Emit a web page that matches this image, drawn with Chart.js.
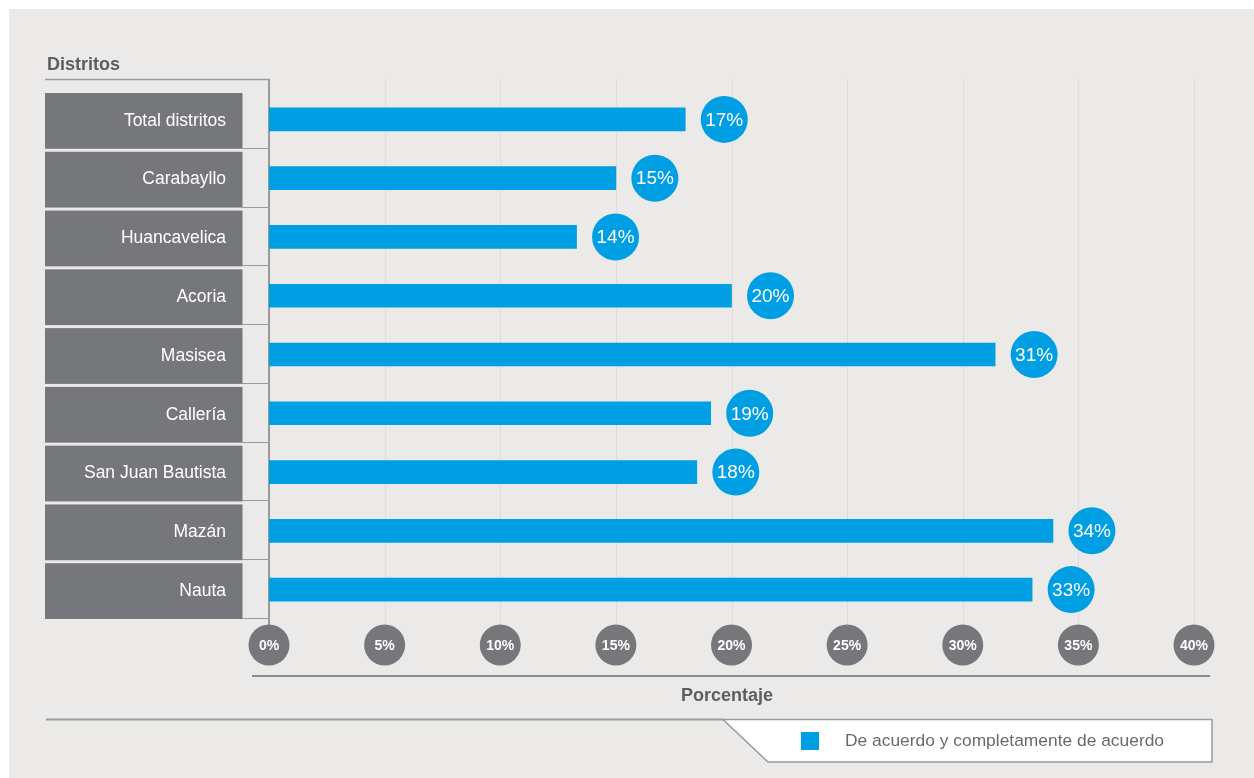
<!DOCTYPE html>
<html><head><meta charset="utf-8">
<script src="https://cdn.jsdelivr.net/npm/chart.js@4/dist/chart.umd.min.js"></script>
<style>html,body{margin:0;padding:0;background:#fff}canvas{display:block}</style>
</head><body>
<canvas id="c" width="1254" height="778"></canvas>
<script>
const categories = ['Total distritos','Carabayllo','Huancavelica','Acoria','Masisea','Callería','San Juan Bautista','Mazán','Nauta'];
const barValues = [18.0, 15.0, 13.3, 20.0, 31.4, 19.1, 18.5, 33.9, 33.0];
const valueLabels = ['17%','15%','14%','20%','31%','19%','18%','34%','33%'];
const tickLabels = ['0%','5%','10%','15%','20%','25%','30%','35%','40%'];
const seriesName = 'De acuerdo y completamente de acuerdo';
const yAxisTitle = 'Distritos';
const xAxisTitle = 'Porcentaje';

const FONT = '"Liberation Sans", Arial, Helvetica, sans-serif';
const BLUE = '#009FE3';
const DARK = '#76777B';
const BG = '#EBEAE8';

const deco = {
  id: 'deco',
  beforeDraw(chart) {
    const c = chart.ctx;
    c.save();
    c.fillStyle = '#fff';
    c.fillRect(0, 0, chart.width, chart.height);
    c.fillStyle = BG;
    c.fillRect(9, 9, chart.width - 9, chart.height - 9);
    c.restore();
  },
  beforeDatasetsDraw(chart) {
    const c = chart.ctx, x = chart.scales.x, y = chart.scales.y, a = chart.chartArea;
    const pitch = (a.bottom - a.top) / categories.length;
    c.save();
    // grid lines
    x.ticks.forEach((t, i) => {
      const px = Math.round(x.getPixelForValue(t.value)) + 0.5;
      if (i === 0) return;
      c.strokeStyle = '#DEDDDB';
      c.lineWidth = 1;
      c.beginPath(); c.moveTo(px, 79); c.lineTo(px, 625); c.stroke();
    });
    // category boxes
    categories.forEach((cat, i) => {
      const cy = y.getPixelForValue(i);
      const top = cy - pitch / 2, bot = cy + pitch / 2;
      c.fillStyle = DARK;
      c.fillRect(45, top + 3, 197.5, bot - top - 3);
      c.strokeStyle = '#9A9A9A';
      c.lineWidth = 1;
      c.beginPath(); c.moveTo(242, Math.round(bot) - 0.5); c.lineTo(269, Math.round(bot) - 0.5); c.stroke();
      c.fillStyle = '#FFFFFF';
      c.font = '17.5px ' + FONT;
      c.textAlign = 'right';
      c.textBaseline = 'middle';
      c.fillText(cat, 226, cy + 1.5);
    });
    // top line
    c.strokeStyle = '#9A9A9A';
    c.lineWidth = 1.5;
    c.beginPath(); c.moveTo(45, 79.5); c.lineTo(269, 79.5); c.stroke();
    // zero axis
    const x0 = x.getPixelForValue(0);
    c.lineWidth = 2;
    c.beginPath(); c.moveTo(x0, 79); c.lineTo(x0, 626); c.stroke();
    c.restore();
  },
  afterDatasetsDraw(chart) {
    const c = chart.ctx, x = chart.scales.x;
    c.save();
    // value badges
    chart.getDatasetMeta(0).data.forEach((bar, i) => {
      const cx = bar.x + 39, cy = bar.y;
      c.fillStyle = BLUE;
      c.beginPath(); c.arc(cx, cy, 23.5, 0, Math.PI * 2); c.fill();
      c.fillStyle = '#fff';
      c.font = '19px ' + FONT;
      c.textAlign = 'center';
      c.textBaseline = 'middle';
      c.fillText(valueLabels[i], cx, cy + 1);
    });
    // tick badges
    x.ticks.forEach((t, i) => {
      const px = x.getPixelForValue(t.value);
      c.fillStyle = DARK;
      c.beginPath(); c.arc(px, 645, 20.5, 0, Math.PI * 2); c.fill();
      c.fillStyle = '#fff';
      c.font = 'bold 14px ' + FONT;
      c.textAlign = 'center';
      c.textBaseline = 'middle';
      c.fillText(tickLabels[i], px, 646);
    });
    // axis titles
    c.fillStyle = '#5E5E5E';
    c.font = 'bold 18px ' + FONT;
    c.textAlign = 'left';
    c.textBaseline = 'alphabetic';
    c.fillText(yAxisTitle, 47, 70);
    c.textAlign = 'center';
    c.fillText(xAxisTitle, 727, 701);
    // horizontal lines
    c.strokeStyle = '#8C8C8C';
    c.lineWidth = 2;
    c.beginPath(); c.moveTo(252, 676); c.lineTo(1210, 676); c.stroke();
    c.strokeStyle = '#9A9A9A';
    c.beginPath(); c.moveTo(46, 719.5); c.lineTo(723, 719.5); c.stroke();
    // legend box
    c.fillStyle = '#fff';
    c.lineWidth = 1.5;
    c.beginPath();
    c.moveTo(723, 719.5); c.lineTo(1212, 719.5); c.lineTo(1212, 762); c.lineTo(768, 762); c.closePath();
    c.fill(); c.stroke();
    c.fillStyle = BLUE;
    c.fillRect(801, 732, 18, 18);
    c.fillStyle = '#6A6A6A';
    c.font = '17.4px ' + FONT;
    c.textAlign = 'left';
    c.textBaseline = 'middle';
    c.fillText(seriesName, 845, 741.5);
    c.restore();
  }
};

new Chart(document.getElementById('c'), {
  type: 'bar',
  data: {
    labels: categories,
    datasets: [{ label: seriesName, data: barValues, backgroundColor: BLUE, borderWidth: 0, barThickness: 23 }]
  },
  options: {
    indexAxis: 'y',
    responsive: false,
    animation: false,
    layout: { padding: { left: 269, right: 60, top: 90, bottom: 159 } },
    plugins: { legend: { display: false }, tooltip: { enabled: false } },
    scales: {
      x: {
        min: 0, max: 40,
        ticks: { display: false, stepSize: 5 },
        grid: { display: false },
        border: { display: false },
        afterFit(s) { s.height = 0; }
      },
      y: {
        ticks: { display: false },
        grid: { display: false },
        border: { display: false },
        afterFit(s) { s.width = 0; }
      }
    }
  },
  plugins: [deco]
});
</script>
</body></html>
